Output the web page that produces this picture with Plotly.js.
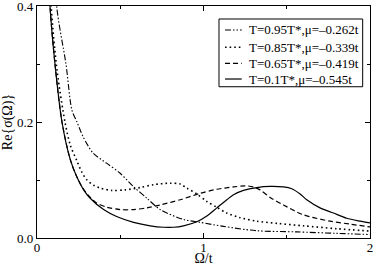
<!DOCTYPE html>
<html><head><meta charset="utf-8">
<script src="https://cdn.plot.ly/plotly-3.0.1.min.js"></script>
<style>html,body{margin:0;padding:0;background:#fff}#c{width:374px;height:266px}</style>
</head><body><div id="c"></div>
<script>
const names = ["T=0.95T*,\u03bc=\u20130.262t","T=0.85T*,\u03bc=\u20130.339t","T=0.65T*,\u03bc=\u20130.419t","T=0.1T*,\u03bc=\u20130.545t"];
const x95 = [0.09,0.118,0.174,0.21,0.24,0.278,0.338,0.418,0.498,0.578,0.658,0.74,0.88,0.98,1.12,1.32,1.56,1.8,2.0];
const y95 = [0.6,0.40,0.30,0.22,0.20,0.174,0.146,0.129,0.112,0.089,0.069,0.049,0.032,0.027,0.020,0.0125,0.0105,0.008,0.006];
const x85 = [0.06,0.085,0.12,0.168,0.20,0.238,0.27,0.30,0.34,0.38,0.45,0.53,0.62,0.70,0.80,0.86,0.90,0.96,1.02,1.08,1.14,1.22,1.32,1.45,1.6,1.8,2.0];
const y85 = [0.6,0.40,0.29,0.20,0.16,0.134,0.113,0.10,0.091,0.086,0.082,0.083,0.087,0.092,0.0945,0.093,0.086,0.076,0.063,0.053,0.043,0.035,0.029,0.025,0.021,0.016,0.012];
const x65 = [0.06,0.078,0.108,0.15,0.20,0.24,0.28,0.32,0.36,0.42,0.50,0.58,0.66,0.74,0.86,0.98,1.08,1.18,1.25,1.30,1.34,1.40,1.48,1.60,1.76,1.88,2.0];
const y65 = [0.52,0.40,0.30,0.20,0.135,0.105,0.084,0.070,0.060,0.053,0.049,0.049,0.052,0.057,0.066,0.077,0.084,0.088,0.090,0.088,0.083,0.070,0.057,0.040,0.029,0.024,0.019];
const x10 = [0.06,0.078,0.108,0.15,0.20,0.238,0.28,0.318,0.40,0.478,0.58,0.68,0.76,0.82,0.88,0.96,1.02,1.08,1.14,1.18,1.24,1.32,1.40,1.48,1.53,1.58,1.62,1.70,1.78,1.86,1.94,2.0];
const y10 = [0.52,0.40,0.30,0.20,0.135,0.106,0.083,0.069,0.049,0.037,0.027,0.021,0.0185,0.0185,0.021,0.028,0.038,0.052,0.066,0.0745,0.082,0.087,0.089,0.088,0.085,0.076,0.066,0.052,0.043,0.034,0.029,0.026];

const dashes = ['6px,2px,1.5px,2px,1.5px,2px','1.6px,3px','5px,3px','solid'];
const widths = [1.1,1.6,1.2,1.2];
const xs = [x95,x85,x65,x10], ys = [y95,y85,y65,y10];
const data = xs.map((x,i) => ({x:x,y:ys[i],name:names[i],type:'scatter',mode:'lines',showlegend:false,
  line:{color:'#000',width:widths[i],dash:dashes[i],shape:'spline',smoothing:0.8},hoverinfo:'skip'}));

const fam = 'Liberation Serif, Times New Roman, serif';
const fnt = {family:fam, size:13, color:'#000'};
// manual legend box (paper coordinates of plot area)
const rowY = [0.8966,0.8220,0.7530,0.6853];
const shapes = [{type:'rect',xref:'paper',yref:'paper',x0:0.5465,x1:0.978,y0:0.652,y1:0.944,
  line:{color:'#000',width:1},fillcolor:'#fff',layer:'above'}];
const annotations = [];
names.forEach((n,i)=>{
  shapes.push({type:'line',xref:'paper',yref:'paper',x0:0.5646,x1:0.6147,y0:rowY[i],y1:rowY[i],
    line:{color:'#000',width:widths[i],dash:dashes[i]},layer:'above'});
  annotations.push({xref:'paper',yref:'paper',x:0.6336,y:rowY[i],xanchor:'left',yanchor:'middle',
    text:n,showarrow:false,font:fnt,borderpad:0});
});
const layout = {
  width:374, height:266, margin:{l:37,r:4,t:6,b:28},
  paper_bgcolor:'#fff', plot_bgcolor:'#fff', font:fnt, showlegend:false, shapes:shapes, annotations:annotations,
  xaxis:{range:[0,2], tickvals:[0,1,2], ticktext:['0','1','2'], ticks:'inside', ticklen:5, tickcolor:'#000',
    minor:{tickvals:[0.5,1.5], ticks:'inside', ticklen:3, tickcolor:'#000'}, ticklabeloverflow:'allow', ticklabelstandoff:-3,
    showline:true, linecolor:'#000', linewidth:1.2, mirror:'ticks', showgrid:false, zeroline:false,
    title:{text:'\u03a9/t', font:{family:fam,size:14,color:'#000'}, standoff:5}, tickfont:fnt},
  yaxis:{range:[0,0.4], tickvals:[0,0.2,0.4], ticktext:['0.0','0.2','0.4'], ticks:'inside', ticklen:5, tickcolor:'#000',
    minor:{tickvals:[0.1,0.3], ticks:'inside', ticklen:3, tickcolor:'#000'}, ticklabeloverflow:'allow',
    showline:true, linecolor:'#000', linewidth:1.2, mirror:'ticks', showgrid:false, zeroline:false,
    title:{text:'Re{\u03c3(\u03a9)}', font:{family:fam,size:14,color:'#000'}, standoff:2}, tickfont:fnt}
};
Plotly.newPlot('c', data, layout, {staticPlot:true});
</script></body></html>
